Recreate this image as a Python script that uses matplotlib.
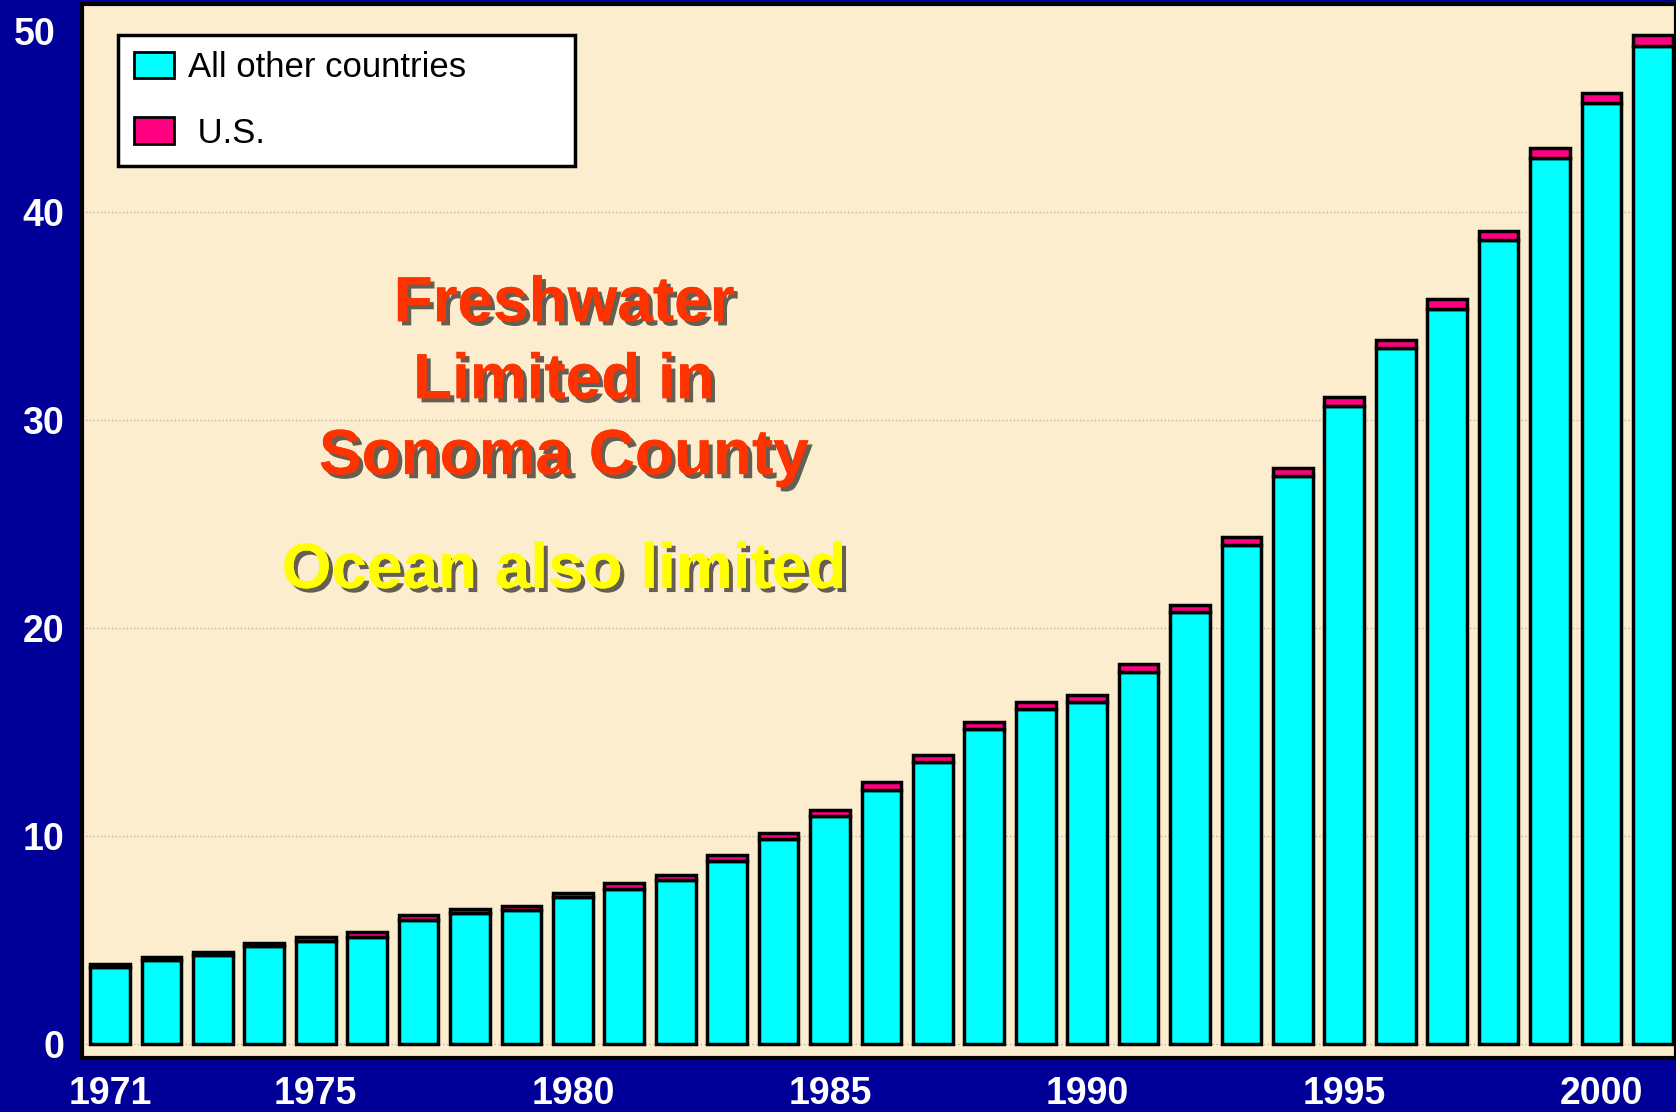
import matplotlib
matplotlib.use("Agg")
import matplotlib.pyplot as plt
import matplotlib.patheffects as pe
from matplotlib.transforms import offset_copy
import numpy as np

years = list(range(1971, 2002))
other = [3.70, 4.05, 4.31, 4.72, 4.98, 5.18, 6.00, 6.30, 6.47, 7.08,
         7.49, 7.90, 8.83, 9.85, 10.98, 12.25, 13.55, 15.15, 16.11, 16.47,
         17.91, 20.78, 24.00, 27.30, 30.70, 33.45, 35.35, 38.65, 42.60, 45.25, 48.00]
us = [0.15, 0.15, 0.15, 0.15, 0.20, 0.20, 0.20, 0.20, 0.20, 0.20,
      0.25, 0.25, 0.25, 0.30, 0.30, 0.35, 0.35, 0.35, 0.35, 0.30,
      0.35, 0.35, 0.40, 0.40, 0.40, 0.40, 0.45, 0.45, 0.50, 0.45, 0.50]
xtick_years = [1971, 1975, 1980, 1985, 1990, 1995, 2000]
yticks = [0, 10, 20, 30, 40, 50]
series_names = ["All other countries", " U.S."]

BG = "#000099"
CREAM = "#FDEDCF"
CYAN = "#00FFFF"
PINK = "#FF0080"

plt.rcParams['font.family'] = ['Liberation Sans', 'DejaVu Sans']

fig = plt.figure(figsize=(16.76, 11.12), dpi=100, facecolor=BG)
ax = fig.add_axes([0.0489, 0.0486, 0.9511, 0.9478])
ax.set_facecolor(CREAM)

x = np.arange(len(years))
ax.bar(x, other, width=0.77, color=CYAN, edgecolor="black", linewidth=2.5,
       label=series_names[0], zorder=3)
ax.bar(x, us, bottom=other, width=0.77, color=PINK, edgecolor="black",
       linewidth=2.5, label=series_names[1], zorder=3)

ax.set_xlim(-0.545, 30.45)
ax.set_ylim(-0.65, 49.95)
ax.set_yticks(yticks)
ax.set_yticklabels([str(v) for v in yticks])
ax.set_xticks([years.index(y) for y in xtick_years])
ax.set_xticklabels([str(y) for y in xtick_years])
ax.tick_params(axis='both', length=0, colors='white', labelsize=27)
ax.tick_params(axis='y', pad=13)
ax.tick_params(axis='x', pad=13)
for lab in ax.get_xticklabels() + ax.get_yticklabels():
    lab.set_fontweight('bold')
    lab.set_color('white')

ax.yaxis.grid(True, color="#bdb5a8", linestyle=":", linewidth=1, zorder=0)
ax.set_axisbelow(True)
for s in ax.spines.values():
    s.set_color("black")
    s.set_linewidth(3)

# push the top "50" label down like the reference
ytl = ax.get_yticklabels()
ytl[-1].set_transform(offset_copy(ytl[-1].get_transform(), fig=fig, x=-0.08, y=-0.27, units='inches'))

leg = ax.legend(loc='upper left', bbox_to_anchor=(0.0226, 0.848, 0.2867, 0.1226),
                mode='expand', fontsize=25, frameon=True, fancybox=False,
                edgecolor='black', facecolor='white', framealpha=1,
                handlelength=1.15, handleheight=0.78, handletextpad=0.4,
                borderpad=0.47, labelspacing=0.93, borderaxespad=0)
leg.get_frame().set_linewidth(2.5)
for h in leg.legend_handles:
    h.set_linewidth(2)

shadow = [pe.withSimplePatchShadow(offset=(3, -3), shadow_rgbFace='black', alpha=0.6), pe.Normal()]
red_lines = ["Freshwater", "Limited in", "Sonoma County"]
red_y = [0.699, 0.626, 0.554]
for t, yy in zip(red_lines, red_y):
    ax.text(0.3024, yy, t, transform=ax.transAxes, ha='center', va='baseline',
            fontsize=46, fontweight='bold', color='#FF3300', path_effects=shadow, zorder=5)
ax.text(0.3024, 0.446, "Ocean also limited", transform=ax.transAxes, ha='center',
        va='baseline', fontsize=46, fontweight='bold', color='#FFFF00',
        path_effects=shadow, zorder=5)

fig.savefig("out.png", dpi=100, facecolor=BG)
